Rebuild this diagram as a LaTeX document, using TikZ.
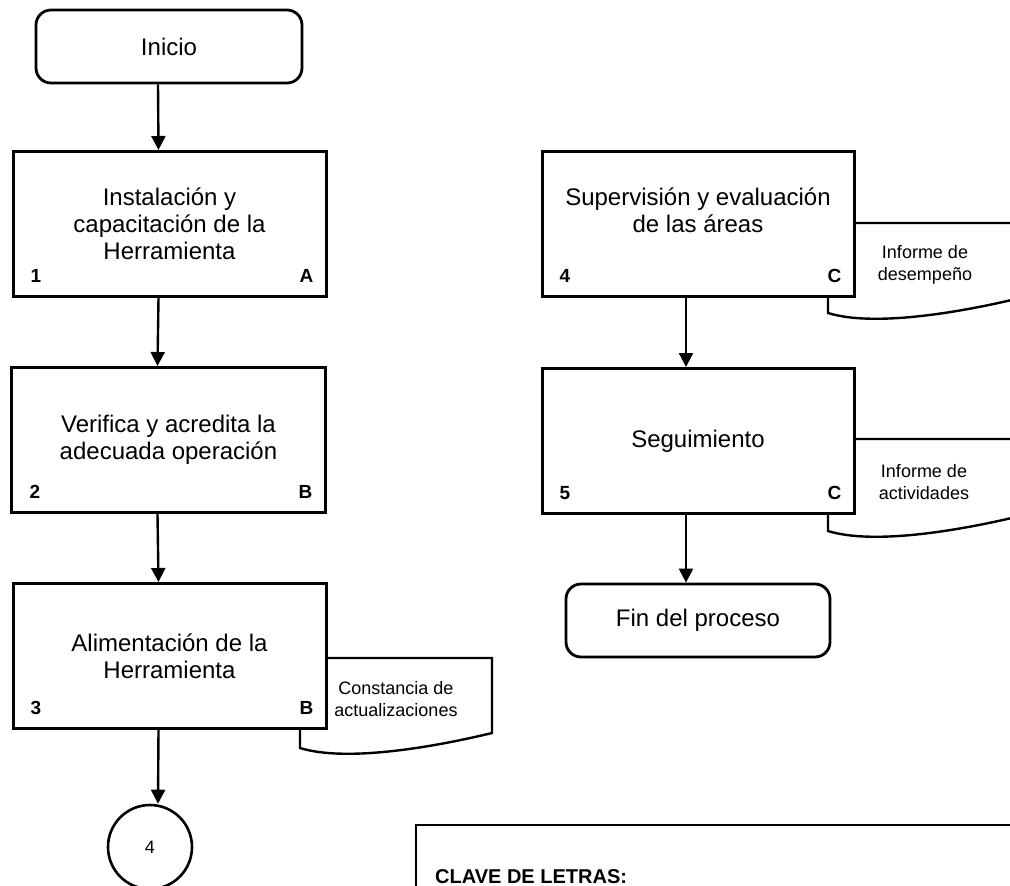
\documentclass[tikz,border=0pt]{standalone}
\usepackage{fontspec}
\setmainfont{Liberation Sans}
\usetikzlibrary{arrows.meta,shapes}

\tikzset{
inicio/.style={draw,rounded corners=15pt,line width=2.8pt,minimum width=266pt,minimum height=73pt,font=\fontsize{24}{27}\selectfont},
paso/.style={draw,fill=white,line width=3pt,minimum width=313pt,minimum height=145pt,align=center,font=\fontsize{24}{27}\selectfont},
num/.style={anchor=base west,inner sep=0pt,font=\fontsize{19}{22}\selectfont\bfseries},
letra/.style={anchor=base east,inner sep=0pt,font=\fontsize{19}{22}\selectfont\bfseries},
doc/.style={draw,line width=2.4pt},
doctexto/.style={align=center,font=\fontsize{18}{21.5}\selectfont},
flecha/.style={line width=2.4pt,-{Triangle[length=14pt,width=14pt]}}
}

\begin{document}
\begin{tikzpicture}[x=100pt,y=100pt]
\useasboundingbox (0,0) rectangle (10.10,-8.86);

% columna izquierda
\node[inicio] (inicio) at (1.69,-0.465) {Inicio};
\node[paso] (p1) at (1.695,-2.24) {Instalación y\\capacitación de la\\Herramienta};
\node[paso] (p2) at (1.685,-4.40) {Verifica y acredita la\\adecuada operación};
\node[paso] (p3) at (1.695,-6.56) {Alimentación de la\\Herramienta};
\node[circle,draw,line width=2.6pt,minimum size=84pt,font=\fontsize{18}{20}\selectfont] (con4) at (1.50,-8.47) {4};

% columna derecha
\node[paso,minimum width=312pt] (p4) at (6.98,-2.24) {Supervisión y evaluación\\de las áreas\\\mbox{}};
\node[paso,minimum width=312pt] (p5) at (6.98,-4.41) {Seguimiento};
\node[inicio,minimum width=264pt] (fin) at (6.98,-6.205) {Fin del proceso};

% numeros y claves
\node[num] (n1) at ([shift={(19pt,16pt)}]p1.south west) {1};
\node[letra] (l1) at ([shift={(-14pt,16pt)}]p1.south east) {A};
\node[num] (n2) at ([shift={(19pt,16pt)}]p2.south west) {2};
\node[letra] (l2) at ([shift={(-14pt,16pt)}]p2.south east) {B};
\node[num] (n3) at ([shift={(19pt,16pt)}]p3.south west) {3};
\node[letra] (l3) at ([shift={(-14pt,16pt)}]p3.south east) {B};
\node[num] (n4) at ([shift={(19pt,16pt)}]p4.south west) {4};
\node[letra] (l4) at ([shift={(-14pt,16pt)}]p4.south east) {C};
\node[num] (n5) at ([shift={(19pt,16pt)}]p5.south west) {5};
\node[letra] (l5) at ([shift={(-14pt,16pt)}]p5.south east) {C};

% documentos
\draw[doc] (3.26,-6.58) -- (4.92,-6.58) -- (4.92,-7.33)
  .. controls (4.30,-7.48) and (3.45,-7.62) .. (3.00,-7.48) -- (3.00,-7.28);
\node[doctexto] (d3) at (3.96,-6.99) {Constancia de\\actualizaciones};
\draw[doc] (8.54,-2.23) -- (10.20,-2.23) -- (10.20,-2.98)
  .. controls (9.58,-3.13) and (8.73,-3.27) .. (8.28,-3.13) -- (8.28,-2.96);
\node[doctexto] (d4) at (9.25,-2.65) {Informe de\\desempeño};
\draw[doc] (8.54,-4.39) -- (10.20,-4.39) -- (10.20,-5.16)
  .. controls (9.58,-5.31) and (8.73,-5.45) .. (8.28,-5.31) -- (8.28,-5.13);
\node[doctexto] (d5) at (9.24,-4.82) {Informe de\\actividades};

% flechas
\draw[flecha] ([xshift=-11pt]inicio.south) -- ([xshift=-11pt]p1.north);
\draw[flecha] ([xshift=-11pt]p1.south) -- ([xshift=-11pt]p2.north);
\draw[flecha] ([xshift=-11pt]p2.south) -- ([xshift=-11pt]p3.north);
\draw[flecha] ([xshift=-11pt]p3.south) -- ([xshift=8pt]con4.north);
\draw[flecha] ([xshift=-12pt]p4.south) -- ([xshift=-12pt]p5.north);
\draw[flecha] ([xshift=-12pt]p5.south) -- ([xshift=-12pt]fin.north);

% clave de letras
\draw[line width=2.8pt] (4.16,-8.25) rectangle (10.50,-9.50);
\node[anchor=base west,inner sep=0pt,font=\fontsize{20}{24}\selectfont\bfseries] (clave) at (4.35,-8.83) {CLAVE DE LETRAS:};
\end{tikzpicture}
\end{document}
